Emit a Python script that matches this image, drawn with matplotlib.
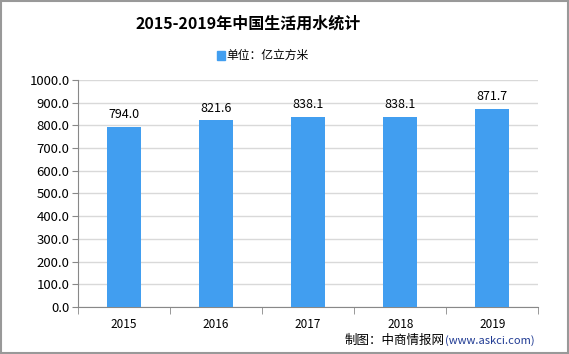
import matplotlib
matplotlib.use("Agg")
from matplotlib import pyplot as plt
from matplotlib.patches import Rectangle

plt.rcParams['font.family'] = ['Noto Sans CJK SC', 'DejaVu Sans']

years = ["2015", "2016", "2017", "2018", "2019"]
water_use = [794.0, 821.6, 838.1, 838.1, 871.7]
y_ticks = [0, 100, 200, 300, 400, 500, 600, 700, 800, 900, 1000]

bar_color = "#419ef0"

fig = plt.figure(figsize=(5.69, 3.54), dpi=100)
ax = fig.add_axes([0.137, 0.133, 0.809, 0.641])

x = list(range(len(years)))
ax.bar(x, water_use, width=0.37, color=bar_color, zorder=3)
for xi, v in zip(x, water_use):
    ax.text(xi, v + 25, f"{v:.1f}", ha="center", va="bottom", fontsize=9, color="#000000")

ax.set_xlim(-0.5, len(years) - 0.5)
ax.set_ylim(0, 1000)
ax.set_yticks(y_ticks)
ax.set_yticklabels([f"{t:.1f}" for t in y_ticks], fontsize=9.5)
ax.set_xticks(x)
ax.set_xticklabels(years, fontsize=8.5)
ax.tick_params(axis="x", length=0, pad=8)
ax.set_xticks([i - 0.5 for i in range(len(years) + 1)], minor=True)
ax.tick_params(axis="x", which="minor", length=5, color="#888888")
ax.tick_params(axis="y", length=4, color="#888888", pad=2)
ax.yaxis.grid(True, color="#d9d9d9", linewidth=1, zorder=0)
for s in ["top", "right"]:
    ax.spines[s].set_visible(False)
for s in ["left", "bottom"]:
    ax.spines[s].set_color("#888888")

fig.text(0.436, 0.933, "2015-2019年中国生活用水统计", ha="center", va="center",
         fontsize=11.5, fontweight="bold")
fig.patches.append(Rectangle((0.381, 0.830), 0.014, 0.026, transform=fig.transFigure,
                             color=bar_color))
fig.text(0.398, 0.843, "单位：亿立方米", ha="left", va="center", fontsize=8.5)
fig.text(0.782, 0.037, "制图：中商情报网", ha="right", va="center", fontsize=9)
fig.text(0.782, 0.037, "(www.askci.com)", ha="left", va="center", fontsize=8, color="#1f3a93")

fig.patches.append(Rectangle((0.0015, 0.002), 0.997, 0.995, transform=fig.transFigure,
                             fill=False, edgecolor="#999999", linewidth=1.5))

fig.savefig("out.png", dpi=100)
